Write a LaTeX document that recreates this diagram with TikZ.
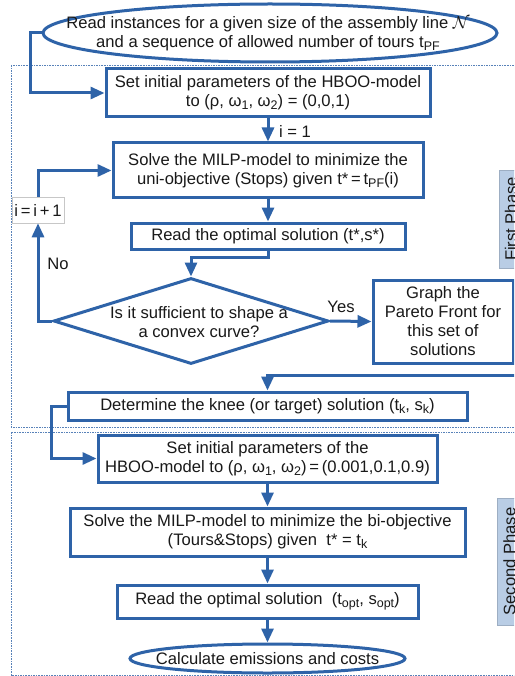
\documentclass[tikz,border=0pt]{standalone}
\usepackage{fontspec}
\setmainfont{Liberation Sans}
\usetikzlibrary{shapes.geometric,arrows.meta}
\definecolor{fblue}{RGB}{46,99,168}
\definecolor{phfill}{RGB}{185,205,229}
\definecolor{txt}{RGB}{25,25,25}
\newcommand\sbs[1]{\raisebox{-3pt}{\fontsize{12.5}{13}\selectfont #1}}
\begin{document}
\begin{tikzpicture}[x=1pt,y=-1pt,
  every node/.style={text=txt},
  font=\fontsize{16.6}{19}\selectfont,
  box/.style={draw=fblue, line width=3pt, fill=white, inner sep=1pt, align=center},
  ell/.style={ellipse, draw=fblue, line width=3pt, fill=white, inner sep=0pt},
  conn/.style={draw=fblue, line width=3pt},
  arr/.style={conn, -{Triangle[length=14pt,width=12pt]}},
  phase/.style={draw=fblue!80, line width=0.9pt, dash pattern=on 1.6pt off 1pt},
  phlabel/.style={fill=phfill, draw=phfill!85!black, line width=0.4pt, rotate=90, inner sep=0pt, font=\fontsize{16.6}{18}\selectfont},
  lbl/.style={inner sep=1pt}
  ]
\useasboundingbox (0,0) rectangle (514,676);
\clip (0,0) rectangle (514,676);
\fill[white] (0,0) rectangle (514,676);

% phase frames
\draw[phase] (11,65) rectangle (540,427);
\draw[phase] (11,432) rectangle (540,675);

% phase labels
\node[phlabel, minimum width=98pt, minimum height=24pt] (ph1) at (511,219) {First Phase};
\node[phlabel, minimum width=127pt, minimum height=24pt] (ph2) at (509.5,561.5) {Second Phase};

% nodes
\node[ell, minimum width=454pt, minimum height=58pt] (ell1) at (270,33) {};
\node[align=center] (ell1t) at (268,34)
  {Read instances for a given size of the assembly line $\mathcal{N}$\\and a sequence of allowed number of tours t\sbs{PF}};
\node[box, minimum width=324pt, minimum height=48pt] (set1) at (268,93)
  {Set initial parameters of the HBOO-model\\to (ρ, ω\sbs{1}, ω\sbs{2}) = (0,0,1)};
\node[box, minimum width=310pt, minimum height=55pt] (solve1) at (268,170.5)
  {Solve the MILP-model to minimize the\\uni-objective (Stops) given t*\,=\,t\sbs{PF}(i)};
\node[box, minimum width=274pt, minimum height=26pt] (read1) at (268,236)
  {Read the optimal solution (t*,s*)};
\node[diamond, draw=fblue, line width=3pt, fill=white, inner sep=0pt,
      minimum width=275pt, minimum height=86pt] (dia) at (191,321) {};
\node[align=center] (diatxt) at (199,322) {Is it sufficient to shape a\\a convex curve?};
\node[box, minimum width=140pt, minimum height=83pt] (graph) at (443,321.5)
  {Graph the\\Pareto Front for\\this set of\\solutions};
\node[box, minimum width=399pt, minimum height=28pt] (det) at (267.5,406)
  {Determine the knee (or target) solution (t\sbs{k}, s\sbs{k})};
\node[box, minimum width=339pt, minimum height=47pt] (set2) at (267.5,458.5)
  {Set initial parameters of the\\HBOO-model to (ρ, ω\sbs{1}, ω\sbs{2})\,=\,(0.001,0.1,0.9)};
\node[box, minimum width=395pt, minimum height=48pt] (solve2) at (267.5,532)
  {Solve the MILP-model to minimize the bi-objective\\(Tours\&Stops) given\ \ t* = t\sbs{k}};
\node[box, minimum width=301pt, minimum height=33pt] (read2) at (267.5,601.5)
  {Read the optimal solution\ \ (t\sbs{opt}, s\sbs{opt})};
\node[ell, minimum width=275pt, minimum height=29pt] (ell2) at (267.5,658.5) {};
\node (ell2t) at (267.5,658.5) {Calculate emissions and costs};

\node[draw=black!22, fill=white, line width=0.6pt, minimum width=52pt, minimum height=26pt, inner sep=1pt] (inc) at (38,210) {i\,=\,i\,+\,1};

% connectors
\coordinate (c1) at (30,33);
\draw[arr] (ell1.west) -- (c1) |- (set1.west);
\draw[arr] (set1) -- (solve1);
\node[lbl] (l1) at (295,131) {i = 1};
\draw[arr] (solve1) -- (read1);
\draw[arr] (read1.south) -- ++(0,7) -| (dia.north);
\draw[arr] (dia.east) -- (graph.west);
\node[lbl] (yes) at (341,307) {Yes};
\draw[arr] (dia.west) -| (inc.south);
\node[lbl] (no) at (58,264) {No};
\draw[arr] (inc.north) |- (solve1.west);
\coordinate (g1) at (535,375);
\draw[arr] (graph.east) -| (g1) -| (det.north);
\draw[arr] (det.west) -- ++(-15,0) |- (set2.west);
\draw[arr] (set2) -- (solve2);
\draw[arr] (solve2) -- (read2);
\draw[arr] (read2) -- (ell2);
\end{tikzpicture}
\end{document}
